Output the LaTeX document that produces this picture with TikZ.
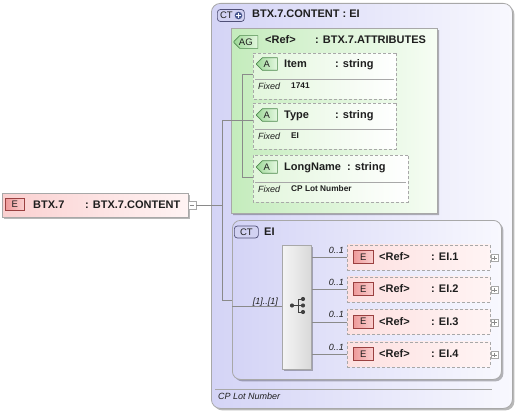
\documentclass[tikz,border=0pt]{standalone}
\usepackage{fontspec}
\setmainfont{Liberation Sans}
\usetikzlibrary{shadows,shapes.misc}
\definecolor{txt}{HTML}{1E1E1E}
\definecolor{bord}{HTML}{A8A8A8}
\definecolor{connc}{HTML}{8A8A8A}
\definecolor{ctL}{HTML}{D4D4F6}
\definecolor{ctR}{HTML}{F8F8FE}
\definecolor{agL}{HTML}{C4ECBC}
\definecolor{agR}{HTML}{F6FDF4}
\definecolor{atL}{HTML}{E2F6DC}
\definecolor{elL}{HTML}{FAD0D0}
\definecolor{elR}{HTML}{FFF4F4}
\definecolor{eiF}{HTML}{FDE0E0}
\definecolor{eBd}{HTML}{9A4040}
\definecolor{eBL}{HTML}{EE9A9A}
\definecolor{eBR}{HTML}{FAD0D0}
\definecolor{aBd}{HTML}{4E8A4E}
\definecolor{aBL}{HTML}{9ED898}
\definecolor{aBR}{HTML}{E4F8E0}
\definecolor{cBd}{HTML}{505078}
\definecolor{cBF}{HTML}{D2D2F2}
\definecolor{plusc}{HTML}{4A5890}
\tikzset{
  conn/.style={draw=connc, line width=0.6pt},
  shad/.style={drop shadow={shadow xshift=2pt,shadow yshift=-2pt,opacity=0.28,fill=black}},
  lbl/.style={anchor=base west, inner sep=0, text=txt, font=\fontsize{11}{12}\selectfont\bfseries},
  lblsm/.style={anchor=base west, inner sep=0, text=txt, font=\fontsize{8.3}{10}\selectfont\bfseries},
  lblit/.style={anchor=base west, inner sep=0, text=txt, font=\fontsize{9}{10}\selectfont\itshape},
  lblitr/.style={anchor=base east, inner sep=0, text=txt, font=\fontsize{9}{10}\selectfont\itshape},
  ctbox/.style={draw=bord, line width=0.8pt, rounded corners=9pt, left color=ctL, right color=ctR, shad, inner sep=0, anchor=north west},
  agbox/.style={draw=bord, line width=0.8pt, chamfered rectangle, chamfered rectangle corners=north west, chamfered rectangle xsep=6pt, chamfered rectangle ysep=6pt, left color=agL, right color=agR, shad, inner sep=0, anchor=north west},
  atbox/.style={draw=bord, line width=0.8pt, dash pattern=on 3pt off 2pt, chamfered rectangle, chamfered rectangle corners={north west,south west}, chamfered rectangle xsep=5pt, chamfered rectangle ysep=5pt, left color=atL, right color=white, inner sep=0, anchor=north west},
  elbox/.style={draw=bord, line width=0.8pt, left color=elL, right color=elR, shad, inner sep=0, anchor=north west},
  eibox/.style={draw=bord, line width=0.8pt, dash pattern=on 3pt off 2pt, left color=eiF, right color=elR, inner sep=0, anchor=north west},
  seqbox/.style={draw=bord, line width=0.8pt, left color=gray!8, right color=gray!30, shad, inner sep=0, anchor=north west},
  ebadge/.style={draw=eBd, line width=0.7pt, left color=eBL, right color=eBR, minimum width=19pt, minimum height=12pt, inner sep=0, text=txt, font=\fontsize{9.5}{10}\selectfont},
  abadge/.style={draw=aBd, line width=0.7pt, chamfered rectangle, chamfered rectangle corners={north west,south west}, chamfered rectangle xsep=3pt, chamfered rectangle ysep=3pt, left color=aBL, right color=aBR, minimum width=21pt, minimum height=12pt, inner sep=0, text=txt, font=\fontsize{9.5}{10}\selectfont},
  cbadge/.style={draw=cBd, line width=0.7pt, rounded corners=3pt, fill=cBF, minimum height=12pt, inner sep=0, text=txt, font=\fontsize{9.5}{10}\selectfont},
  sqbtn/.style={draw=bord, line width=0.5pt, fill=white, minimum width=7pt, minimum height=7pt, inner sep=0},
  seqic/.style={fill=txt!85},
}
\begin{document}
\begin{tikzpicture}[x=1pt,y=-1pt]
\useasboundingbox (0,0) rectangle (515,412);
% ---------- outer complex type ----------
\node[ctbox, minimum width=301pt, minimum height=405pt] (outer) at (211,3) {};
\node[cbadge, minimum width=27pt, anchor=west] (ctp) at (217,15.5) {\hspace*{-9pt}CT};
\fill[plusc] (238.5,15.5) circle (3.8pt);
\draw[white, line width=1.3pt] (236,15.5) -- (241,15.5) (238.5,13) -- (238.5,18);
\node[lbl] (outert) at (252,18) {BTX.7.CONTENT : EI};
% ---------- attribute group ----------
\node[agbox, minimum width=206pt, minimum height=185pt] (ag) at (231,28) {};
\node[abadge, minimum width=24pt, anchor=west] (agb) at (233.5,42) {AG};
\node[lbl] (agref) at (265,44) {<Ref>};
\node[lbl] (agtype) at (315,44) {: BTX.7.ATTRIBUTES};
% attributes
\node[atbox, minimum width=143pt, minimum height=46pt] (at1) at (253,53) {};
\node[abadge, anchor=west] (at1b) at (256,64) {A};
\node[lbl] (at1n) at (284,68) {Item};
\node[lbl] (at1t) at (335,68) {: string};
\draw[bord, line width=0.6pt] (255,79) -- (394,79);
\node[lblit] (at1f) at (258,89.5) {Fixed};
\node[lblsm] (at1v) at (291,89) {1741};

\node[atbox, minimum width=143pt, minimum height=46pt] (at2) at (253,103) {};
\node[abadge, anchor=west] (at2b) at (256,115) {A};
\node[lbl] (at2n) at (284,119) {Type};
\node[lbl] (at2t) at (335,119) {: string};
\draw[bord, line width=0.6pt] (255,129) -- (394,129);
\node[lblit] (at2f) at (258,139.5) {Fixed};
\node[lblsm] (at2v) at (291,139) {EI};

\node[atbox, minimum width=155pt, minimum height=47pt] (at3) at (253,155) {};
\node[abadge, anchor=west] (at3b) at (256,167) {A};
\node[lbl] (at3n) at (284,171) {LongName};
\node[lbl] (at3t) at (347,171) {: string};
\draw[bord, line width=0.6pt] (255,182) -- (406,182);
\node[lblit] (at3f) at (258,192.5) {Fixed};
\node[lblsm] (at3v) at (291,192) {CP Lot Number};

\coordinate (av1) at (242,74);
\coordinate (av3) at (242,177);
\draw[conn] (at1.west |- av1) -- (av1) -- (av3) -- (at3.west |- av3);
\draw[conn] (ag.west |- 0,120) -- (at2.west |- 0,120);
% ---------- inner complex type ----------
\node[ctbox, rounded corners=8pt, minimum width=269pt, minimum height=159pt] (inner) at (232,220) {};
\node[cbadge, minimum width=24pt, anchor=west] (ctb) at (234,232) {CT};
\node[lbl] (innert) at (264,235) {EI};
% sequence compositor
\node[seqbox, minimum width=29pt, minimum height=124pt] (seq) at (282,245) {};
\coordinate (sq0) at (292,305.5);
\draw[txt!85, line width=1pt] (sq0) -- (298,305.5) (298,299) -- (298,312)
  (298,299) -- (303,299) (298,305.5) -- (303,305.5) (298,312) -- (303,312);
\fill[seqic] (sq0) circle (2.1pt) (303,299) circle (2.1pt) (303,305.5) circle (2.1pt) (303,312) circle (2.1pt);
\node[lblitr] (card) at (278,304) {[1]..[1]};
\draw[conn] (inner.west |- 0,306) -- (seq.west |- 0,306);
% elements
\foreach \i/\cy in {1/257,2/289,3/321.5,4/354}{
  \node[eibox, minimum width=143pt, minimum height=25pt] (e\i) at (347,\cy-12.5) {};
  \node[ebadge, minimum width=20pt, minimum height=13pt, anchor=west] (e\i b) at (353,\cy) {E};
  \node[lbl] (e\i r) at (379,\cy+3.5) {<Ref>};
  \node[lbl] (e\i t) at (431,\cy+3.5) {: EI.\i};
  \node[sqbtn] (e\i p) at (494.5,\cy+1) {};
  \draw[connc, line width=0.6pt] (e\i p.center) ++(-2.2,0) -- ++(4.4,0) (e\i p.center) ++(0,-2.2) -- ++(0,4.4);
  \node[lblitr] (e\i c) at (344,\cy-4) {0..1};
  \draw[conn] (seq.east |- e\i.west) -- (e\i.west);
}
% footer
\draw[bord, line width=0.7pt] (215,389) -- (492,389);
\node[lblit] (foot) at (218,399) {CP Lot Number};
% ---------- root element ----------
\node[elbox, minimum width=186pt, minimum height=24pt] (root) at (2,193) {};
\node[ebadge, anchor=west] (rootb) at (5,204.5) {E};
\node[lbl] (rootn) at (33,208) {BTX.7};
\node[lbl] (roott) at (85,208) {: BTX.7.CONTENT};
\node[sqbtn, minimum width=8pt, minimum height=8pt] (minus) at (192,205) {};
\draw[connc, line width=0.6pt] (minus.center) ++(-2.4,0) -- ++(4.8,0);
% connectors from root
\coordinate (jr) at (222,205);
\coordinate (jt) at (222,120);
\coordinate (jb) at (222,300);
\draw[conn] (minus.east) -- (jr);
\draw[conn] (ag.west |- jt) -- (jt) -- (jb) -- (inner.west |- jb);
\end{tikzpicture}
\end{document}
